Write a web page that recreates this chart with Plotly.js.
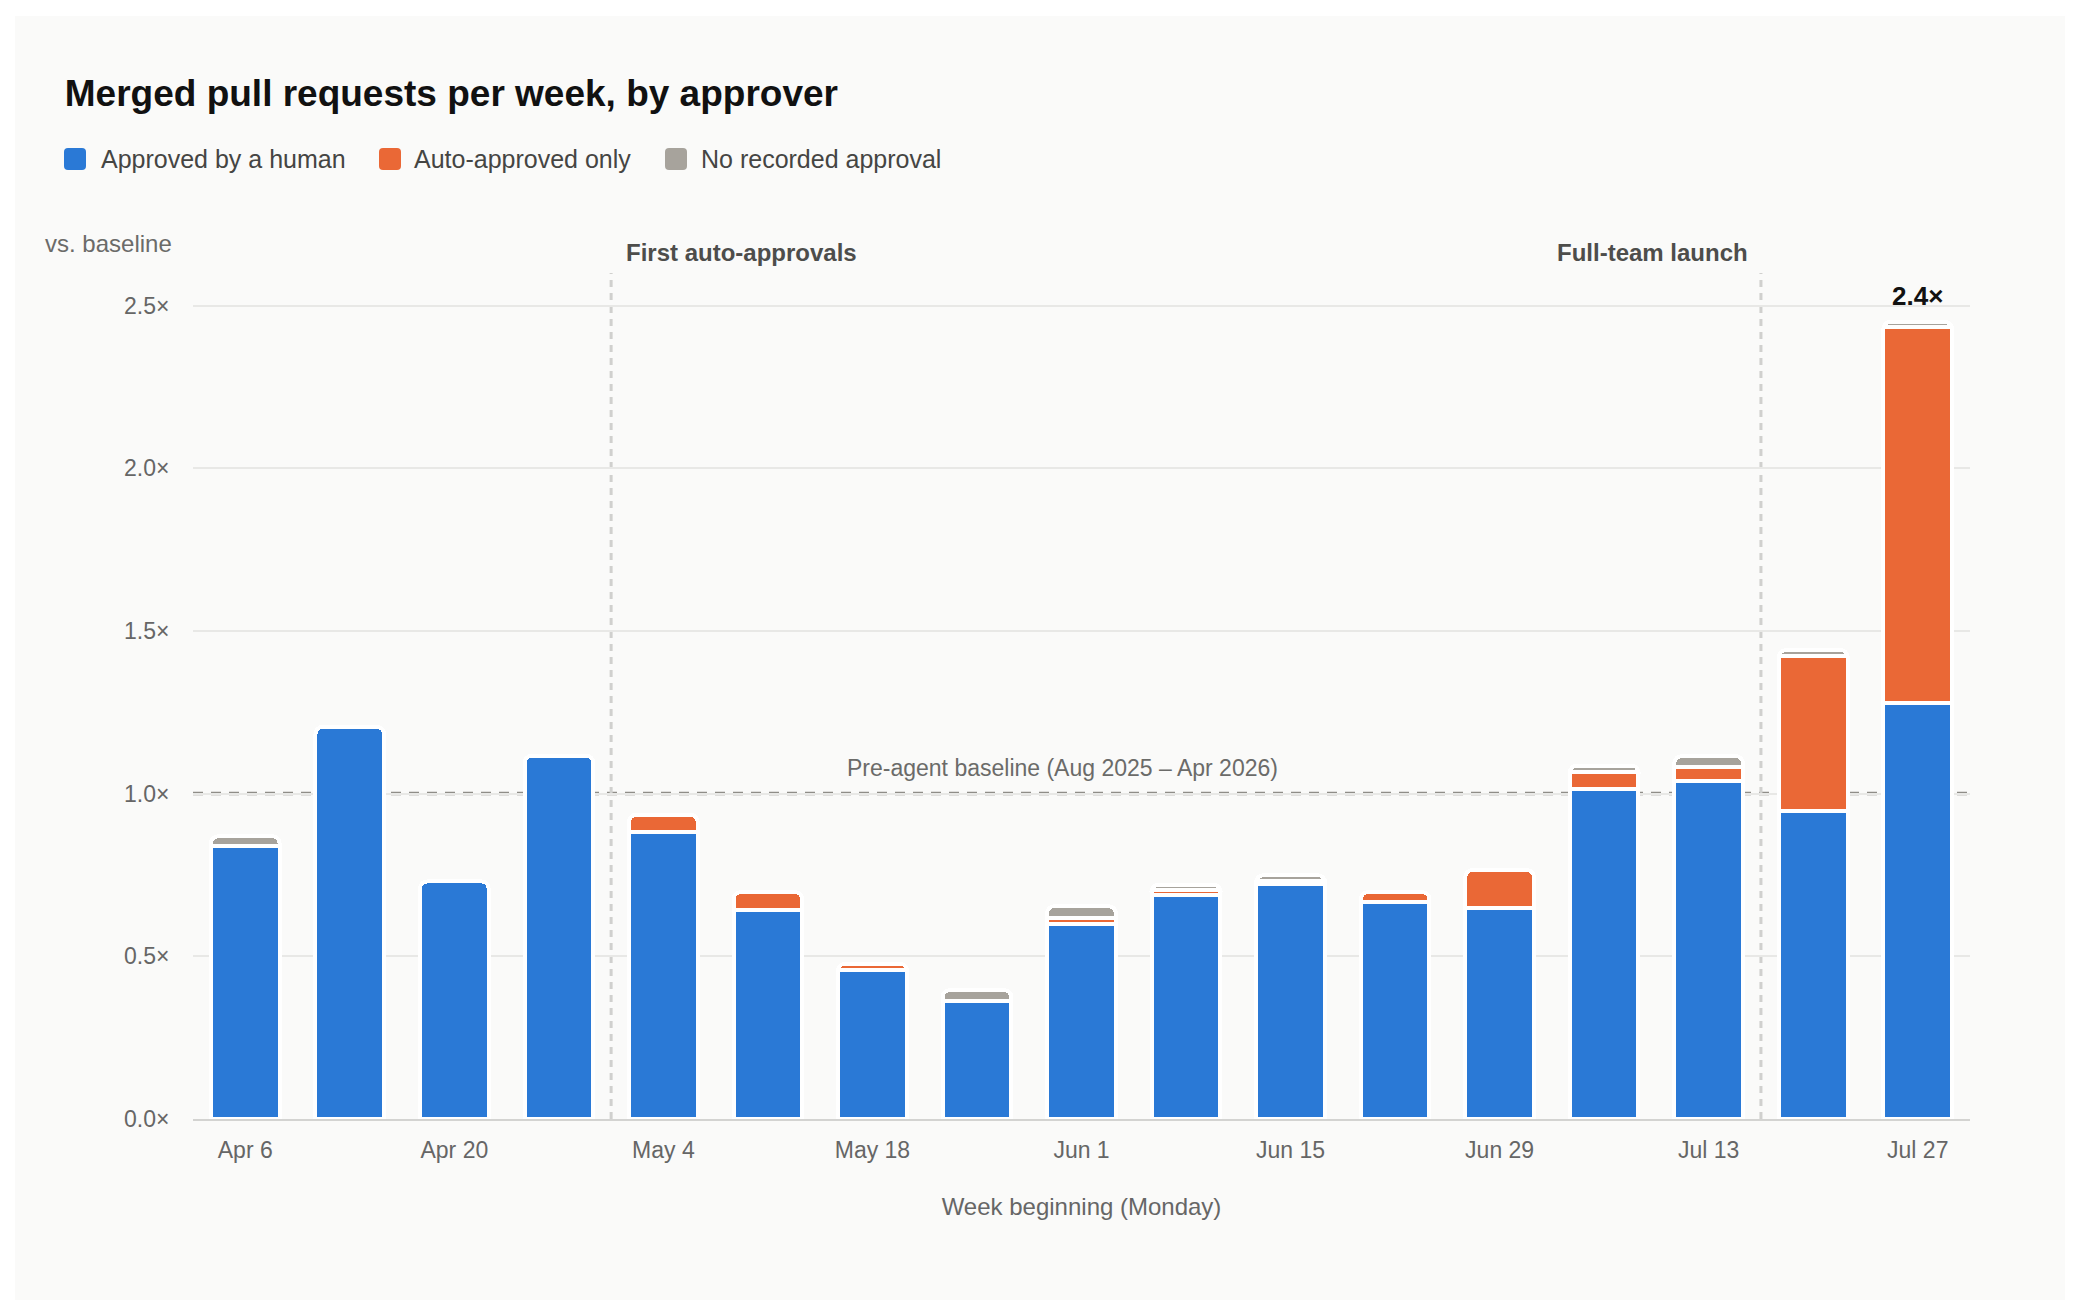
<!DOCTYPE html>
<html>
<head>
<meta charset="utf-8">
<script src="https://cdn.plot.ly/plotly-3.0.1.min.js"></script>
<style>
  html, body { margin: 0; background: #ffffff; }
  #chart { position: absolute; left: 15px; top: 16px; width: 2050px; height: 1284px; }
</style>
</head>
<body>
<div id="chart"></div>
<script>
// weekly merged PRs, relative to the pre-agent baseline
const weeks = ['Apr 6', 'Apr 13', 'Apr 20', 'Apr 27', 'May 4', 'May 11', 'May 18', 'May 25',
  'Jun 1', 'Jun 8', 'Jun 15', 'Jun 22', 'Jun 29', 'Jul 6', 'Jul 13', 'Jul 20', 'Jul 27'];
const humanApproved = [0.84, 1.205, 0.73, 1.116, 0.882, 0.643, 0.457, 0.362,
  0.598, 0.688, 0.722, 0.668, 0.649, 1.013, 1.038, 0.947, 1.278];
const autoApproved = [0, 0, 0, 0, 0.053, 0.054, 0.02, 0,
  0.019, 0.016, 0.009, 0.029, 0.116, 0.054, 0.044, 0.475, 1.155];
const noApproval = [0.029, 0, 0, 0, 0, 0, 0, 0.034,
  0.037, 0.016, 0.018, 0, 0, 0.019, 0.033, 0.019, 0.016];

const seriesNames = ['Approved by a human', 'Auto-approved only', 'No recorded approval'];
const seriesColors = ['#2a79d6', '#ea6836', '#a7a39c'];
const tickWeeks = weeks.filter((w, i) => i % 2 === 0);

const baselineValue = 1;
const baselineLabel = 'Pre-agent baseline (Aug 2025 – Apr 2026)';
const events = [
  { after: 'Apr 27', label: 'First auto-approvals', side: 'right' },
  { after: 'Jul 13', label: 'Full-team launch', side: 'left' }
];

const FONT = 'Liberation Sans, Arial, Helvetica, sans-serif';
const W = 2050, H = 1284;
const M = { l: 178, r: 95, t: 257, b: 181 };
const plotW = W - M.l - M.r;
const plotH = H - M.t - M.b;
// pixel (inside the chart div) -> paper coords
const px = x => (x - M.l) / plotW;
const py = y => (H - M.b - y) / plotH;

// legend is drawn by hand so the swatches can be big rounded squares
const legendPos = [{ sq: 60, txt: 83.5 }, { sq: 375, txt: 397 }, { sq: 661, txt: 684 }];
const legendY = 143;

function drawChart() {
  const series = [humanApproved, autoApproved, noApproval];
  const traces = series.map((vals, k) => ({
    type: 'bar',
    x: weeks,
    y: vals.map(v => (v > 0 ? v : null)),
    name: seriesNames[k],
    showlegend: false,
    hoverinfo: 'skip',
    marker: {
      color: seriesColors[k],
      line: { color: '#ffffff', width: 4 }
    }
  }));

  const totals = weeks.map((w, i) => humanApproved[i] + autoApproved[i] + noApproval[i]);
  const peak = totals.indexOf(Math.max(...totals));

  const shapes = [{
    type: 'line', layer: 'between',
    xref: 'paper', x0: 0, x1: 1,
    yref: 'y', y0: baselineValue, y1: baselineValue,
    line: { color: '#8f8d88', width: 3.5, dash: '10px,8px' }
  }];
  const annotations = [];

  events.forEach(ev => {
    const xPos = weeks.indexOf(ev.after) + 0.5;
    shapes.push({
      type: 'line', layer: 'between',
      xref: 'x', x0: xPos, x1: xPos,
      yref: 'paper', y0: 0, y1: 1,
      line: { color: '#d0d0ce', width: 3, dash: '7px,6px' }
    });
    annotations.push({
      xref: 'x', x: xPos,
      xanchor: ev.side === 'right' ? 'left' : 'right',
      xshift: ev.side === 'right' ? 13 : -11,
      yref: 'paper', y: py(237), yanchor: 'middle',
      text: ev.label, showarrow: false,
      font: { family: FONT, size: 24, weight: 700, color: '#4d4d4b' }
    });
  });

  annotations.push({
    xref: 'paper', x: px(1047), xanchor: 'center',
    yref: 'y', y: baselineValue, yanchor: 'middle', yshift: 26,
    text: baselineLabel, showarrow: false,
    font: { family: FONT, size: 23, color: '#6b6b69' }
  });

  annotations.push({
    xref: 'x', x: weeks[peak], xanchor: 'center',
    yref: 'y', y: totals[peak], yanchor: 'middle', yshift: 26,
    text: totals[peak].toFixed(1) + '×', showarrow: false,
    font: { family: FONT, size: 26, weight: 700, color: '#111111' }
  });

  annotations.push({
    xref: 'paper', x: px(28), xanchor: 'left',
    yref: 'paper', y: py(228), yanchor: 'middle',
    text: 'vs. baseline', showarrow: false,
    font: { family: FONT, size: 24, color: '#6b6b69' }
  });

  seriesNames.forEach((name, k) => {
    shapes.push({
      type: 'path', layer: 'above',
      xref: 'paper', xsizemode: 'pixel', xanchor: px(legendPos[k].sq),
      yref: 'paper', ysizemode: 'pixel', yanchor: py(legendY),
      path: 'M-7,-11 H7 Q11,-11 11,-7 V7 Q11,11 7,11 H-7 Q-11,11 -11,7 V-7 Q-11,-11 -7,-11 Z',
      fillcolor: seriesColors[k],
      line: { width: 0 }
    });
    annotations.push({
      xref: 'paper', x: px(legendPos[k].txt), xanchor: 'left',
      yref: 'paper', y: py(legendY), yanchor: 'middle',
      text: name, showarrow: false,
      font: { family: FONT, size: 25, color: '#454543' }
    });
  });

  const layout = {
    width: W,
    height: H,
    margin: M,
    paper_bgcolor: '#fafaf9',
    plot_bgcolor: '#fafaf9',
    font: { family: FONT, color: '#666666' },
    title: {
      text: 'Merged pull requests per week, by approver',
      xref: 'container', x: 49.8 / W, xanchor: 'left',
      yref: 'container', y: 1 - 77.5 / H, yanchor: 'middle',
      font: { family: FONT, size: 37, weight: 700, color: '#111111' }
    },
    barmode: 'stack',
    bargap: 0.343,
    barcornerradius: 7,
    hovermode: false,
    showlegend: false,
    xaxis: {
      type: 'category',
      categoryorder: 'array',
      categoryarray: weeks,
      tickvals: tickWeeks,
      ticktext: tickWeeks,
      range: [-0.5, weeks.length - 0.5],
      showgrid: false,
      showline: true,
      linecolor: '#d3d3d1',
      linewidth: 2,
      ticks: 'outside',
      ticklen: 9,
      tickcolor: 'rgba(0,0,0,0)',
      tickfont: { family: FONT, size: 23, color: '#666666' },
      title: {
        text: 'Week beginning (Monday)',
        standoff: 37,
        font: { family: FONT, size: 24, color: '#666666' }
      },
      fixedrange: true
    },
    yaxis: {
      range: [0, 2.6],
      tick0: 0,
      dtick: 0.5,
      tickformat: '.1f',
      ticksuffix: '×',
      gridcolor: '#e8e8e6',
      gridwidth: 2,
      zeroline: false,
      showline: false,
      ticks: 'outside',
      ticklen: 18,
      tickcolor: 'rgba(0,0,0,0)',
      tickfont: { family: FONT, size: 23, color: '#666666' },
      fixedrange: true
    },
    shapes: shapes,
    annotations: annotations
  };

  Plotly.newPlot('chart', traces, layout, { displayModeBar: false, staticPlot: true });
}

document.addEventListener('DOMContentLoaded', drawChart);
</script>
</body>
</html>
